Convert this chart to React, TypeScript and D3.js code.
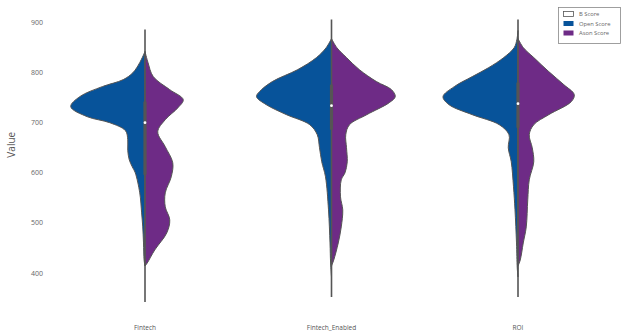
import React from "react";
import * as d3 from "d3";

const categories = ["Fintech", "Fintech_Enabled", "ROI"];
const seriesNames = ["B Score", "Open Score", "Ason Score"];
const seriesColors = ["#ffffff", "#07539a", "#6e2b86"];
const yTicks = [400, 500, 600, 700, 800, 900];

// density profiles: [value, relative density]
const fintechOpen: [number, number][] = [
  [842, 0], [820, 0.07], [800, 0.16], [786, 0.29], [772, 0.57], [752, 0.87], [732, 0.99],
  [712, 0.77], [700, 0.47], [684, 0.26], [666, 0.23], [645, 0.23], [626, 0.21], [612, 0.17],
  [600, 0.13], [560, 0.07], [520, 0.045], [492, 0.03], [460, 0.02], [426, 0.012], [414, 0],
];
const fintechAson: [number, number][] = [
  [842, 0], [820, 0.04], [792, 0.11], [766, 0.33], [746, 0.51], [730, 0.44], [706, 0.27],
  [682, 0.17], [652, 0.27], [620, 0.37], [592, 0.35], [560, 0.27], [532, 0.27], [506, 0.33],
  [480, 0.29], [446, 0.13], [420, 0.03], [414, 0],
];
const enabledOpen: [number, number][] = [
  [868, 0], [850, 0.07], [830, 0.2], [806, 0.45], [782, 0.79], [762, 0.96], [752, 1.0],
  [736, 0.87], [716, 0.6], [696, 0.29], [676, 0.19], [650, 0.16], [622, 0.13], [592, 0.08],
  [526, 0.04], [460, 0.02], [420, 0.012], [392, 0],
];
const enabledAson: [number, number][] = [
  [868, 0], [850, 0.07], [830, 0.2], [806, 0.37], [782, 0.6], [766, 0.8], [752, 0.85],
  [740, 0.77], [716, 0.47], [696, 0.24], [676, 0.19], [650, 0.2], [622, 0.21], [600, 0.18],
  [586, 0.13], [552, 0.12], [526, 0.15], [492, 0.13], [460, 0.09], [426, 0.03], [414, 0],
];
const roiOpen: [number, number][] = [
  [884, 0], [866, 0.015], [850, 0.05], [830, 0.19], [810, 0.39], [792, 0.61], [772, 0.85],
  [752, 1.0], [736, 0.92], [716, 0.61], [696, 0.25], [676, 0.12], [650, 0.13], [622, 0.09],
  [572, 0.06], [526, 0.04], [460, 0.02], [410, 0.01], [392, 0],
];
const roiAson: [number, number][] = [
  [868, 0], [850, 0.07], [830, 0.21], [802, 0.41], [776, 0.61], [756, 0.75], [742, 0.71],
  [716, 0.41], [696, 0.21], [676, 0.15], [650, 0.19], [622, 0.21], [586, 0.15], [546, 0.13],
  [492, 0.11], [460, 0.07], [426, 0.03], [414, 0],
];
const openProfiles = [fintechOpen, enabledOpen, roiOpen];
const asonProfiles = [fintechAson, enabledAson, roiAson];

// box stats
const q1 = [596, 686, 690];
const medians = [700, 734, 738];
const q3 = [742, 776, 780];
const whiskerLow = [342, 352, 352];
const whiskerHigh = [886, 906, 906];

const W = 621;
const H = 333;

export default function App() {
  const x = d3.scaleBand<string>().domain(categories).range([51.75, 611.25]);
  const y = d3.scaleLinear().domain([400, 900]).range([273, 22.5]);
  const w = d3.scaleLinear().domain([0, 1]).range([0, 75]);
  const cx = (c: string) => (x(c) as number) + x.bandwidth() / 2;

  const half = (c: string, side: number) =>
    d3
      .area<[number, number]>()
      .y((d) => y(d[0]))
      .x0(() => cx(c))
      .x1((d) => cx(c) + side * w(d[1]))
      .curve(d3.curveCatmullRom.alpha(0.5));

  const font = "'Open Sans', 'DejaVu Sans', sans-serif";

  return (
    <svg
      width={W}
      height={H}
      style={{ position: "absolute", left: 0, top: 0, background: "#fff" }}
      fontFamily={font}
    >
      {/* y ticks */}
      {yTicks.map((t) => (
        <text key={t} x={43} y={y(t) + 2.5} fontSize={7} fill="#666" textAnchor="end">
          {t}
        </text>
      ))}
      <text
        transform={`translate(15,${y(650) - 3}) rotate(-90)`}
        fontSize={10}
        fill="#555"
        textAnchor="middle"
      >
        Value
      </text>
      {/* x labels */}
      {categories.map((c) => (
        <text key={c} x={cx(c)} y={330} fontSize={6.5} fill="#555" textAnchor="middle">
          {c}
        </text>
      ))}
      {/* violins */}
      {categories.map((c, i) => (
        <g key={c}>
          <path d={half(c, -1)(openProfiles[i]) || ""} fill={seriesColors[1]} stroke="#555" strokeWidth={1} />
          <path d={half(c, 1)(asonProfiles[i]) || ""} fill={seriesColors[2]} stroke="#555" strokeWidth={1} />
          <line
            x1={cx(c)}
            x2={cx(c)}
            y1={y(whiskerLow[i])}
            y2={y(whiskerHigh[i])}
            stroke="#555"
            strokeWidth={1.6}
          />
          <rect
            x={cx(c) - 1.6}
            width={3.2}
            y={y(q3[i])}
            height={y(q1[i]) - y(q3[i])}
            fill="#555"
          />
          <circle cx={cx(c)} cy={y(medians[i])} r={1.4} fill="#fff" />
        </g>
      ))}
      {/* legend */}
      <g>
        <rect x={558.5} y={7.5} width={62} height={36} fill="#fff" stroke="#888" strokeWidth={0.8} />
        {seriesNames.map((s, i) => (
          <g key={s}>
            <rect
              x={563.5}
              y={11.5 + i * 9.5}
              width={10}
              height={5}
              fill={seriesColors[i]}
              stroke={i === 0 ? "#555" : "none"}
              strokeWidth={0.8}
            />
            <text x={579} y={16.3 + i * 9.5} fontSize={5.8} fill="#666">
              {s}
            </text>
          </g>
        ))}
      </g>
    </svg>
  );
}
